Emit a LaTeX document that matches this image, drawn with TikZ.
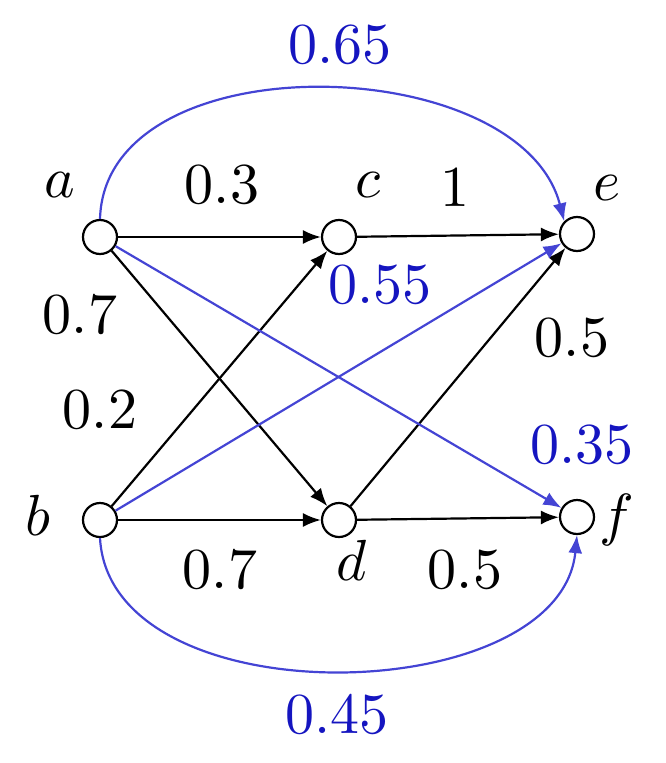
\documentclass[tikz,border=0pt]{standalone}
\usepackage{graphicx}
\usetikzlibrary{arrows.meta}
\definecolor{bl}{HTML}{4444D4}
\definecolor{bt}{HTML}{1515C0}
\newcommand{\bigt}[1]{\scalebox{5.8}{$#1$}}
\begin{document}
\begin{tikzpicture}[x=1pt,y=-1pt,
 vert/.style={circle,draw,line width=2.2pt,minimum size=34pt,inner sep=0pt},
 lab/.style={inner sep=0pt},
 edge/.style={line width=2.2pt,-{Latex[length=18pt,width=14pt]}},
 bedge/.style={edge,draw=bl}]
\useasboundingbox (0,0) rectangle (666,763);
\node[vert] (a) at (100,237) {};
\node[vert] (c) at (339,237) {};
\node[vert] (e) at (577,234) {};
\node[vert] (b) at (100,520) {};
\node[vert] (d) at (339,520) {};
\node[vert] (f) at (577,517) {};
\draw[edge] (a) -- (c);
\draw[edge] (c) -- (e);
\draw[edge] (a) -- (d);
\draw[edge] (b) -- (c);
\draw[edge] (b) -- (d);
\draw[edge] (d) -- (f);
\draw[edge] (d) -- (e);
\draw[bedge] (a) -- (f);
\draw[bedge] (b) -- (e);
\draw[bedge] (a.north) .. controls (105,40) and (520,50) .. (e.north west);
\draw[bedge] (b.south) .. controls (110,720) and (560,710) .. (f.south);
\node[lab] (la) at (60,185) {\bigt{a}};
\node[lab] (lc) at (368,185) {\bigt{c}};
\node[lab] (le) at (607,188) {\bigt{e}};
\node[lab] (lb) at (38,515) {\bigt{b}};
\node[lab] (ld) at (352,560) {\bigt{d}};
\node[lab] (lf) at (617,520) {\bigt{f}};
\node[lab] (w1) at (222,185) {\bigt{0.3}};
\node[lab] (w2) at (455,188) {\bigt{1}};
\node[lab,text=bt] (w3) at (380,285) {\bigt{0.55}};
\node[lab] (w4) at (80,315) {\bigt{0.7}};
\node[lab] (w5) at (572,338) {\bigt{0.5}};
\node[lab] (w6) at (100,410) {\bigt{0.2}};
\node[lab,text=bt] (w7) at (582,445) {\bigt{0.35}};
\node[lab] (w8) at (220,570) {\bigt{0.7}};
\node[lab] (w9) at (465,570) {\bigt{0.5}};
\node[lab,text=bt] (w10) at (340,45) {\bigt{0.65}};
\node[lab,text=bt] (w11) at (337,715) {\bigt{0.45}};
\end{tikzpicture}
\end{document}
